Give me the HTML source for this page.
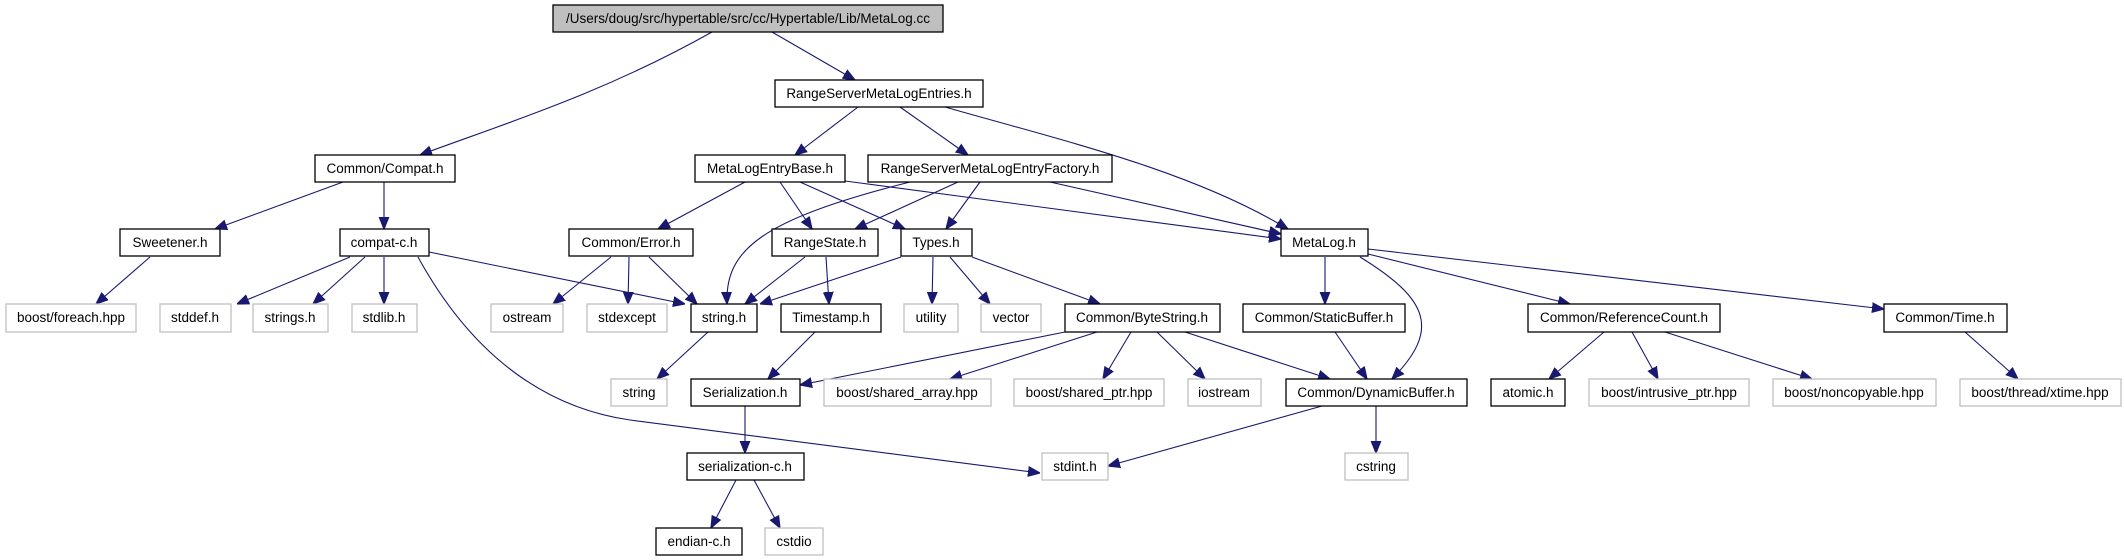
<!DOCTYPE html>
<html><head><meta charset="utf-8"><style>
html,body{margin:0;padding:0;background:#fff;width:2125px;height:560px;overflow:hidden}
svg text{font-family:"Liberation Sans",sans-serif;font-size:13.5px;fill:#000;text-anchor:middle}
.b{fill:#fff;stroke:#000;stroke-width:1.3}
.g{fill:#fff;stroke:#bfbfbf;stroke-width:1.3}
.e{fill:none;stroke:#191970;stroke-width:1.1}
</style></head><body>
<svg width="2125" height="560" viewBox="0 0 2125 560" xmlns="http://www.w3.org/2000/svg">
<defs><marker id="a" viewBox="0 0 10 10" refX="10" refY="5" markerWidth="12" markerHeight="12" markerUnits="userSpaceOnUse" orient="auto"><path d="M0,1 L10,5 L0,9 z" fill="#191970" stroke="#191970"/></marker></defs>
<g class="e" marker-end="url(#a)">
<path d="M712,32 C600,95 500,125 420,155"/>
<path d="M772,32 L855,80"/>
<path d="M858,107 L795,155"/>
<path d="M900,107 L968,155"/>
<path d="M945,107 C1060,140 1190,170 1288,229"/>
<path d="M343,182 L215,229"/>
<path d="M384,182 L384,229"/>
<path d="M745,182 L658,229"/>
<path d="M780,182 L812,229"/>
<path d="M800,182 L905,229"/>
<path d="M845,181 L1281,239"/>
<path d="M910,182 C760,220 725,250 727,304"/>
<path d="M958,182 L855,229"/>
<path d="M980,182 L946,229"/>
<path d="M1050,182 L1281,234"/>
<path d="M150,257 L96,304"/>
<path d="M350,257 L237,304"/>
<path d="M365,257 L313,304"/>
<path d="M384,257 L384,304"/>
<path d="M429,252 L685,304"/>
<path d="M418,257 C480,370 560,410 630,420 L1040,473"/>
<path d="M611,257 L553,304"/>
<path d="M629,257 L628,304"/>
<path d="M649,257 L697,304"/>
<path d="M805,257 L745,304"/>
<path d="M826,257 L829,304"/>
<path d="M901,257 L760,304"/>
<path d="M933,257 L932,304"/>
<path d="M950,257 L990,304"/>
<path d="M972,257 L1100,304"/>
<path d="M708,332 L657,379"/>
<path d="M815,332 L768,379"/>
<path d="M1065,332 L800,385"/>
<path d="M1097,332 L950,379"/>
<path d="M1131,332 L1103,379"/>
<path d="M1157,332 L1205,379"/>
<path d="M1185,332 L1330,379"/>
<path d="M1335,332 L1367,379"/>
<path d="M1360,257 C1430,300 1440,330 1392,379"/>
<path d="M1325,257 L1325,304"/>
<path d="M1368,254 L1570,304"/>
<path d="M1368,249 L1884,309"/>
<path d="M1604,332 L1549,379"/>
<path d="M1632,332 L1658,379"/>
<path d="M1665,332 L1812,379"/>
<path d="M1965,332 L2018,379"/>
<path d="M745,406 L745,453"/>
<path d="M1322,406 L1108,466"/>
<path d="M1376,406 L1376,453"/>
<path d="M736,480 L711,528"/>
<path d="M754,480 L780,528"/>
</g>
<rect x="553" y="5" width="390" height="27" fill="#bfbfbf" stroke="#000" stroke-width="1.3"/>
<text x="748" y="23" textLength="364" lengthAdjust="spacingAndGlyphs">/Users/doug/src/hypertable/src/cc/Hypertable/Lib/MetaLog.cc</text>
<g>
<rect class="b" x="775" y="80" width="208" height="27"/><text x="879" y="98">RangeServerMetaLogEntries.h</text>
<rect class="b" x="315" y="155" width="140" height="27"/><text x="385" y="173">Common/Compat.h</text>
<rect class="b" x="695" y="155" width="150" height="27"/><text x="770" y="173">MetaLogEntryBase.h</text>
<rect class="b" x="868" y="155" width="244" height="27"/><text x="990" y="173">RangeServerMetaLogEntryFactory.h</text>
<rect class="b" x="120" y="229" width="100" height="27"/><text x="170" y="247">Sweetener.h</text>
<rect class="b" x="340" y="229" width="89" height="27"/><text x="384" y="247">compat-c.h</text>
<rect class="b" x="569" y="229" width="124" height="27"/><text x="631" y="247">Common/Error.h</text>
<rect class="b" x="772" y="229" width="106" height="27"/><text x="825" y="247">RangeState.h</text>
<rect class="b" x="901" y="229" width="71" height="27"/><text x="936" y="247">Types.h</text>
<rect class="b" x="1281" y="229" width="87" height="27"/><text x="1324" y="247">MetaLog.h</text>

<rect class="g" x="6" y="304" width="130" height="28"/><text x="71" y="322">boost/foreach.hpp</text>
<rect class="g" x="160" y="304" width="71" height="28"/><text x="195" y="322">stddef.h</text>
<rect class="g" x="253" y="304" width="75" height="28"/><text x="290" y="322">strings.h</text>
<rect class="g" x="352" y="304" width="65" height="28"/><text x="384" y="322">stdlib.h</text>
<rect class="g" x="491" y="304" width="72" height="28"/><text x="527" y="322">ostream</text>
<rect class="g" x="587" y="304" width="80" height="28"/><text x="627" y="322">stdexcept</text>
<rect class="b" x="691" y="304" width="66" height="28"/><text x="724" y="322">string.h</text>
<rect class="b" x="781" y="304" width="100" height="28"/><text x="831" y="322">Timestamp.h</text>
<rect class="g" x="904" y="304" width="54" height="28"/><text x="931" y="322">utility</text>
<rect class="g" x="981" y="304" width="60" height="28"/><text x="1011" y="322">vector</text>
<rect class="b" x="1065" y="304" width="155" height="28"/><text x="1142" y="322">Common/ByteString.h</text>
<rect class="b" x="1243" y="304" width="162" height="28"/><text x="1324" y="322">Common/StaticBuffer.h</text>
<rect class="b" x="1528" y="304" width="192" height="28"/><text x="1624" y="322">Common/ReferenceCount.h</text>
<rect class="b" x="1884" y="304" width="123" height="28"/><text x="1945" y="322">Common/Time.h</text>

<rect class="g" x="611" y="379" width="56" height="27"/><text x="639" y="397">string</text>
<rect class="b" x="691" y="379" width="109" height="27"/><text x="745" y="397">Serialization.h</text>
<rect class="g" x="824" y="379" width="167" height="27"/><text x="907" y="397">boost/shared_array.hpp</text>
<rect class="g" x="1014" y="379" width="150" height="27"/><text x="1089" y="397">boost/shared_ptr.hpp</text>
<rect class="g" x="1188" y="379" width="73" height="27"/><text x="1224" y="397">iostream</text>
<rect class="b" x="1286" y="379" width="181" height="27"/><text x="1376" y="397">Common/DynamicBuffer.h</text>
<rect class="b" x="1491" y="379" width="74" height="27"/><text x="1528" y="397">atomic.h</text>
<rect class="g" x="1589" y="379" width="160" height="27"/><text x="1669" y="397">boost/intrusive_ptr.hpp</text>
<rect class="g" x="1773" y="379" width="163" height="27"/><text x="1854" y="397">boost/noncopyable.hpp</text>
<rect class="g" x="1960" y="379" width="161" height="27"/><text x="2040" y="397">boost/thread/xtime.hpp</text>

<rect class="b" x="687" y="453" width="117" height="27"/><text x="745" y="471">serialization-c.h</text>
<rect class="g" x="1042" y="453" width="66" height="27"/><text x="1075" y="471">stdint.h</text>
<rect class="g" x="1345" y="453" width="63" height="27"/><text x="1376" y="471">cstring</text>

<rect class="b" x="656" y="528" width="86" height="27"/><text x="699" y="546">endian-c.h</text>
<rect class="g" x="765" y="528" width="58" height="27"/><text x="794" y="546">cstdio</text>
</g>
</svg>
</body></html>
